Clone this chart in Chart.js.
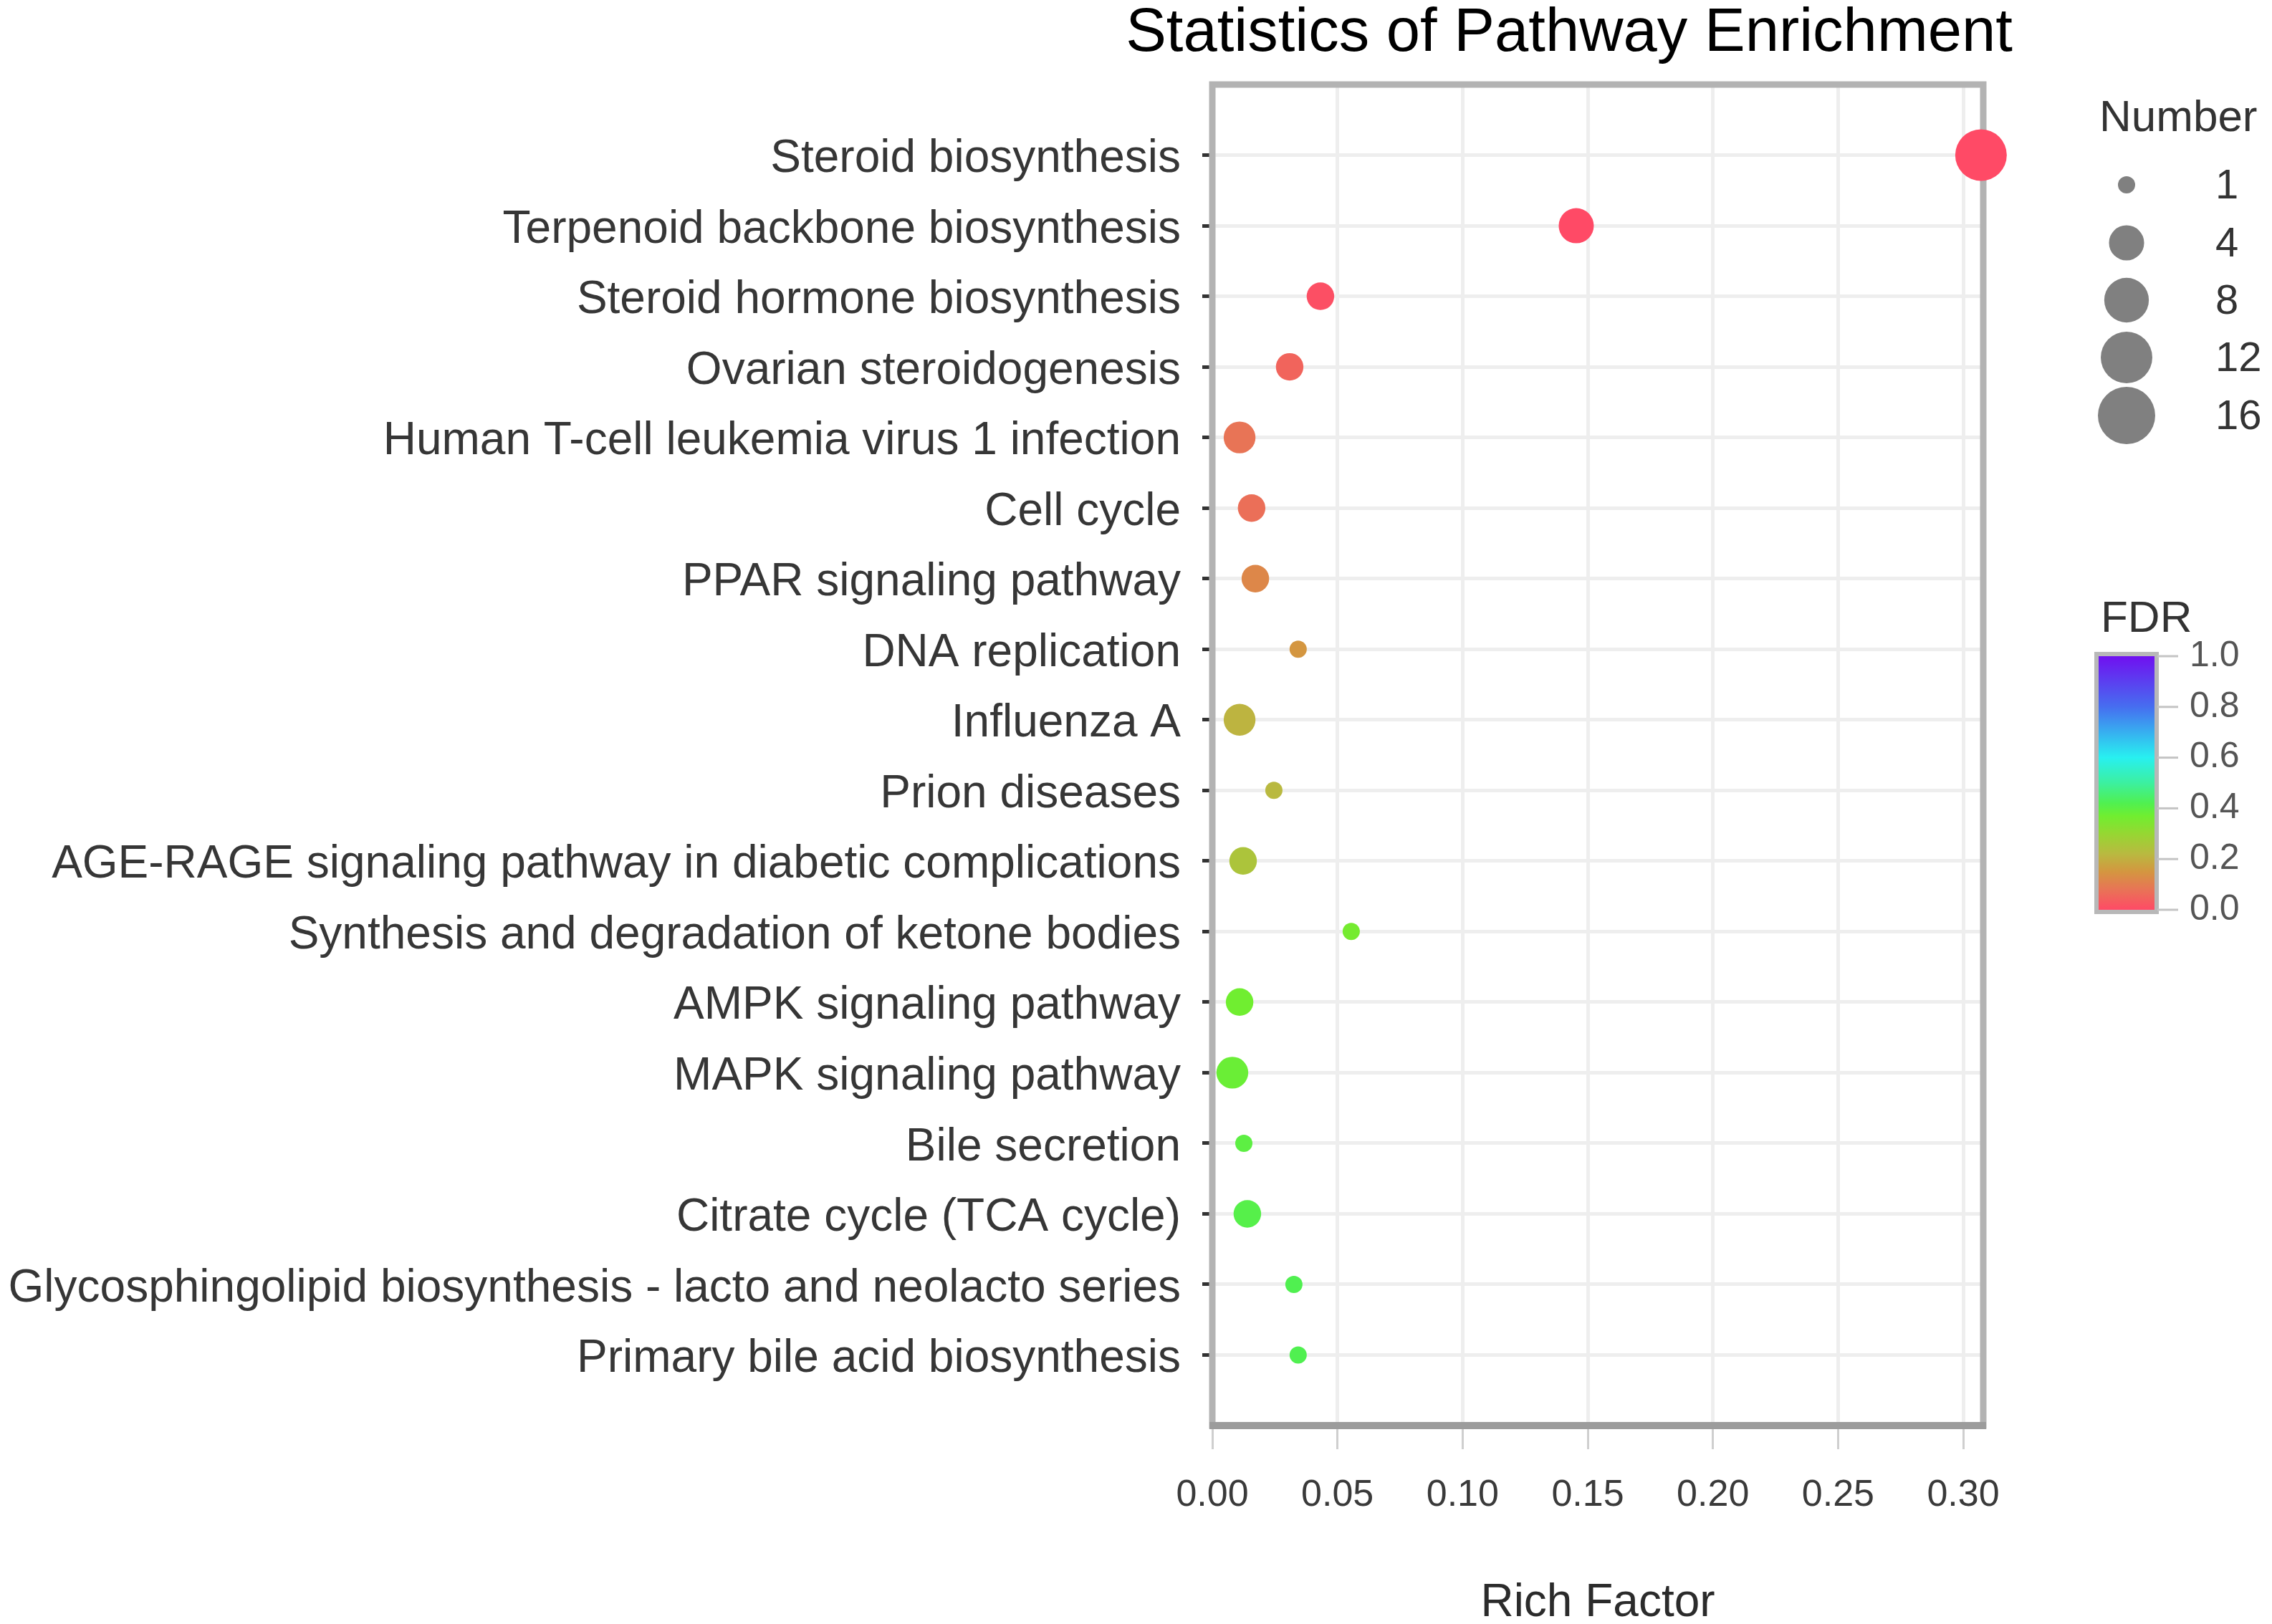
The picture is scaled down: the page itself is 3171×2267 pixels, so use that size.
<!DOCTYPE html>
<html>
<head>
<meta charset="utf-8">
<script src="https://cdn.jsdelivr.net/npm/chart.js@4.4.0/dist/chart.umd.min.js"></script>
<style>
  html, body { margin: 0; padding: 0; background: #fff; }
  canvas { display: block; }
</style>
</head>
<body>
<canvas id="enrichChart" width="3171" height="2267"></canvas>
<script>
// Pathways, top to bottom
const pathways = [
    'Steroid biosynthesis',
    'Terpenoid backbone biosynthesis',
    'Steroid hormone biosynthesis',
    'Ovarian steroidogenesis',
    'Human T-cell leukemia virus 1 infection',
    'Cell cycle',
    'PPAR signaling pathway',
    'DNA replication',
    'Influenza A',
    'Prion diseases',
    'AGE-RAGE signaling pathway in diabetic complications',
    'Synthesis and degradation of ketone bodies',
    'AMPK signaling pathway',
    'MAPK signaling pathway',
    'Bile secretion',
    'Citrate cycle (TCA cycle)',
    'Glycosphingolipid biosynthesis - lacto and neolacto series',
    'Primary bile acid biosynthesis'
];

// Rich factor (x)
const richFactor = [0.3071, 0.1454, 0.0432, 0.0309, 0.0109, 0.0157, 0.0172, 0.0343, 0.0109,
    0.0246, 0.0123, 0.0555, 0.0109, 0.0080, 0.0126, 0.0140, 0.0326, 0.0343];

// Gene number (point size)
const geneNumber = [12, 4, 2, 2, 3, 2, 2, 1, 3, 1, 2, 1, 2, 3, 1, 2, 1, 1];

// FDR (point colour)
const fdr = [0.0, 0.0, 0.01, 0.05, 0.08, 0.07, 0.12, 0.15, 0.21, 0.22, 0.25, 0.36, 0.37, 0.38,
    0.40, 0.41, 0.42, 0.42];

const xTicks = [0.00, 0.05, 0.10, 0.15, 0.20, 0.25, 0.30];
const sizeBreaks = [1, 4, 8, 12, 16];
const fdrTicks = [0.0, 0.2, 0.4, 0.6, 0.8, 1.0];

const FONT = "'Liberation Sans', Arial, sans-serif";

// colour ramp used by both the points and the colour bar
const fdrStops = [
    [0.00, [255, 74, 102]],
    [0.08, [232, 116, 86]],
    [0.15, [212, 150, 64]],
    [0.22, [185, 185, 64]],
    [0.30, [150, 215, 50]],
    [0.37, [112, 238, 48]],
    [0.42, [80, 240, 80]],
    [0.50, [60, 240, 160]],
    [0.60, [40, 240, 240]],
    [0.80, [70, 110, 240]],
    [1.00, [112, 16, 240]]
];

function fdrColor(v) {
    for (let i = 1; i < fdrStops.length; i++) {
        const [v1, c1] = fdrStops[i];
        const [v0, c0] = fdrStops[i - 1];
        if (v <= v1) {
            const t = (v - v0) / (v1 - v0);
            const c = c0.map((a, k) => Math.round(a + (c1[k] - a) * t));
            return `rgb(${c[0]}, ${c[1]}, ${c[2]})`;
        }
    }
    return 'rgb(112, 16, 240)';
}

// area-style size scale, radius in px
function sizeOf(n) {
    const d = 24 + 56 * Math.sqrt((n - 1) / 15);
    return d / 2;
}

// Title, axis title and both legends
const decorations = {
    id: 'decorations',
    beforeDatasetsDraw(chart) {
        const { ctx, chartArea: a } = chart;
        ctx.save();
        ctx.strokeStyle = '#b3b3b3';
        ctx.lineWidth = 9;
        ctx.strokeRect(a.left, a.top, a.right - a.left, a.bottom - a.top);
        ctx.strokeStyle = '#9c9c9c';
        ctx.lineWidth = 10;
        ctx.beginPath();
        ctx.moveTo(a.left - 4, a.bottom);
        ctx.lineTo(a.right + 4, a.bottom);
        ctx.stroke();
        ctx.restore();
    },
    afterDraw(chart) {
        const { ctx, chartArea: a } = chart;
        ctx.save();

        // title
        ctx.fillStyle = '#000';
        ctx.font = `85px ${FONT}`;
        ctx.textAlign = 'center';
        ctx.textBaseline = 'alphabetic';
        ctx.fillText('Statistics of Pathway Enrichment', 2190, 71);

        // x axis title
        ctx.fillStyle = '#2b2b2b';
        ctx.font = `64px ${FONT}`;
        ctx.textBaseline = 'middle';
        ctx.fillText('Rich Factor', (a.left + a.right) / 2, 2238);

        // size legend
        ctx.textAlign = 'left';
        ctx.fillStyle = '#333';
        ctx.font = `62px ${FONT}`;
        ctx.fillText('Number', 2930, 166);
        const rowY = [258, 339, 419, 499, 580];
        sizeBreaks.forEach((n, i) => {
            ctx.fillStyle = '#808080';
            ctx.beginPath();
            ctx.arc(2968, rowY[i], sizeOf(n), 0, Math.PI * 2);
            ctx.fill();
            ctx.fillStyle = '#333';
            ctx.font = `58px ${FONT}`;
            ctx.fillText(String(n), 3092, rowY[i] + 3);
        });

        // colour bar
        ctx.fillStyle = '#333';
        ctx.font = `62px ${FONT}`;
        ctx.fillText('FDR', 2932, 865);
        const barL = 2929, barR = 3007, barT = 916, barB = 1270;
        const grad = ctx.createLinearGradient(0, barB, 0, barT);
        fdrStops.forEach(([v, c]) => grad.addColorStop(v, `rgb(${c[0]}, ${c[1]}, ${c[2]})`));
        ctx.fillStyle = grad;
        ctx.fillRect(barL, barT, barR - barL, barB - barT);
        ctx.strokeStyle = '#b8b8b8';
        ctx.lineWidth = 6;
        ctx.strokeRect(barL - 3, barT - 3, barR - barL + 6, barB - barT + 6);
        ctx.font = `50px ${FONT}`;
        fdrTicks.forEach(v => {
            const y = barB - v * (barB - barT);
            ctx.strokeStyle = '#c4c4c4';
            ctx.lineWidth = 3;
            ctx.beginPath();
            ctx.moveTo(barR + 4, y);
            ctx.lineTo(3040, y);
            ctx.stroke();
            ctx.fillStyle = '#555';
            ctx.fillText(v.toFixed(1), 3056, y);
        });

        ctx.restore();
    }
};

const points = pathways.map((p, i) => ({ x: richFactor[i], y: i }));

new Chart(document.getElementById('enrichChart'), {
    type: 'scatter',
    data: {
        datasets: [{
            data: points,
            pointRadius: geneNumber.map(sizeOf),
            pointHoverRadius: geneNumber.map(sizeOf),
            backgroundColor: fdr.map(fdrColor),
            borderWidth: 0,
            clip: false
        }]
    },
    options: {
        responsive: false,
        animation: false,
        devicePixelRatio: 1,
        layout: {
            padding: { left: 0, right: 403, top: 118, bottom: 0 }
        },
        plugins: {
            legend: { display: false },
            tooltip: { enabled: false }
        },
        scales: {
            x: {
                type: 'linear',
                min: 0,
                max: 0.308,
                afterFit: scale => { scale.height = 277; },
                afterBuildTicks: scale => {
                    scale.ticks = xTicks.map(v => ({ value: v }));
                },
                ticks: {
                    callback: v => Number(v).toFixed(2),
                    color: '#3a3a3a',
                    font: { family: FONT, size: 52 },
                    padding: 33,
                    maxRotation: 0,
                    autoSkip: false
                },
                grid: {
                    color: '#eeeeee',
                    lineWidth: 5,
                    tickColor: '#cfcfcf',
                    tickWidth: 3,
                    tickLength: 33
                },
                border: { display: false }
            },
            y: {
                type: 'linear',
                reverse: true,
                min: -1,
                max: 18,
                afterFit: scale => { scale.width = 1692; },
                afterBuildTicks: scale => {
                    scale.ticks = pathways.map((p, i) => ({ value: i }));
                },
                ticks: {
                    callback: v => pathways[v],
                    color: '#363636',
                    font: { family: FONT, size: 64 },
                    padding: 30,
                    labelOffset: 6,
                    autoSkip: false
                },
                grid: {
                    color: '#eeeeee',
                    lineWidth: 5,
                    tickColor: '#333',
                    tickWidth: 5,
                    tickLength: 14
                },
                border: { display: false }
            }
        }
    },
    plugins: [decorations]
});
</script>
</body>
</html>
